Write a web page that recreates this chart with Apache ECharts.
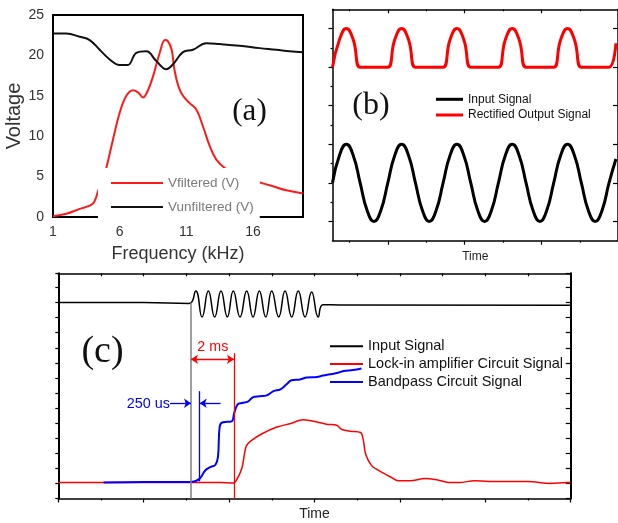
<!DOCTYPE html>
<html><head><meta charset="utf-8">
<script src="https://cdn.jsdelivr.net/npm/echarts@6/dist/echarts.min.js"></script>
<style>html,body{margin:0;padding:0;background:#fff}#c{width:618px;height:523px}</style>
</head><body><div id="c"></div>
<script>
// ---------- Panel (a): frequency response ----------
const freqFiltered = [1, 2, 3, 3.75, 4.1, 4.4, 4.7, 5, 5.5, 6, 6.5, 7, 7.4, 7.75, 8.1, 8.5, 9, 9.4, 9.6, 9.9, 10.1, 10.4, 10.75, 11.25, 11.75, 12.25, 12.75, 13.25, 14, 15, 16.25, 17.5, 18.5, 19.75];
const vFiltered    = [0.1, 0.4, 1.0, 1.4, 1.9, 3.3, 4.6, 6.1, 9.6, 12.9, 15.0, 15.7, 15.4, 14.8, 15.6, 17.4, 20.3, 21.9, 21.8, 20.7, 18.3, 16.2, 15.0, 14.1, 13.3, 11.2, 8.8, 7.1, 5.9, 5.0, 4.4, 3.8, 3.3, 2.9];
const freqUnfiltered = [1, 2, 3, 3.75, 4.5, 5.25, 6, 6.6, 7.25, 8, 8.75, 9.5, 10, 10.75, 11.5, 12.5, 13.5, 15, 16.5, 17.75, 18.75, 19.75];
const vUnfiltered    = [22.7, 22.7, 22.3, 21.9, 20.7, 19.5, 18.8, 18.8, 20.3, 20.5, 19.3, 18.3, 18.9, 20.4, 20.7, 21.5, 21.4, 21.2, 20.9, 20.7, 20.5, 20.4];
const freqTickLabels = [1, 6, 11, 16];

// ---------- Panel (b): rectifier ----------
const timeB = [-0.72, -0.63, -0.54, -0.45, -0.36, -0.27, -0.18, -0.09, 0, 0.09, 0.18, 0.27, 0.36, 0.45, 0.54, 0.63, 0.72, 0.81, 0.90, 0.99, 1.08, 1.17, 1.26, 1.35, 1.44, 1.53, 1.62, 1.71, 1.80, 1.89, 1.98, 2.07, 2.16, 2.25, 2.34, 2.43, 2.52, 2.61, 2.70, 2.79, 2.88, 2.97];
const inputB = [0, 0.71, 1, 0.71, 0, -0.71, -1, -0.71,
                0, 0.71, 1, 0.71, 0, -0.71, -1, -0.71,
                0, 0.71, 1, 0.71, 0, -0.71, -1, -0.71,
                0, 0.71, 1, 0.71, 0, -0.71, -1, -0.71,
                0, 0.71, 1, 0.71, 0, -0.71, -1, -0.71,
                0, 0.62];
const rectifiedB = [3, 3.71, 4, 3.71, 3, 3, 3, 3,
                    3, 3.71, 4, 3.71, 3, 3, 3, 3,
                    3, 3.71, 4, 3.71, 3, 3, 3, 3,
                    3, 3.71, 4, 3.71, 3, 3, 3, 3,
                    3, 3.71, 4, 3.71, 3, 3, 3, 3,
                    3, 3.62];
const timeBMajorTicks = [0, 1, 2];
const timeBMinorTicks = [-0.5, 0.5, 1.5, 2.5];
const voltBMajorTicks = [-1, 0, 1, 2, 3, 4];
const voltBMinorTicks = [-0.5, 0.5, 1.5, 2.5, 3.5];

// ---------- Panel (c): step response ----------
const timeInputC = [0, 1.0, 1.53, 1.609, 1.683, 1.757, 1.831, 1.905, 1.979, 2.049, 2.128, 2.206, 2.280, 2.354, 2.429, 2.499, 2.581, 2.655, 2.733, 2.810, 2.889, 2.967, 3.044, 3.10, 3.3, 6.0];
const inputC     = [6.5, 6.5, 6.47, 6.88, 6.02, 6.88, 6.02, 6.88, 6.02, 6.88, 6.02, 6.88, 6.02, 6.88, 6.02, 6.88, 6.02, 6.88, 6.02, 6.88, 6.02, 6.85, 6.02, 6.43, 6.42, 6.41];
const timeLockC = [0, 0.53, 1.0, 1.5, 1.89, 2.05, 2.09, 2.15, 2.20, 2.26, 2.38, 2.56, 2.71, 2.87, 3.03, 3.14, 3.26, 3.32, 3.42, 3.54, 3.57, 3.60, 3.67, 3.77, 3.88, 3.98, 4.12, 4.29, 4.43, 4.59, 4.70, 4.87, 5.13, 5.50, 5.76, 5.95, 6.0];
const lockC     = [0.53, 0.53, 0.53, 0.53, 0.53, 0.51, 0.63, 1.01, 1.73, 1.92, 2.14, 2.37, 2.48, 2.61, 2.54, 2.46, 2.43, 2.29, 2.23, 2.19, 1.96, 1.46, 1.09, 0.9, 0.73, 0.59, 0.59, 0.66, 0.62, 0.53, 0.53, 0.59, 0.56, 0.56, 0.5, 0.53, 0.53];
const timeBandC = [0.53, 1.0, 1.54, 1.60, 1.66, 1.72, 1.78, 1.84, 1.87, 1.89, 1.925, 2.03, 2.06, 2.10, 2.15, 2.22, 2.28, 2.36, 2.44, 2.52, 2.60, 2.67, 2.73, 2.83, 2.91, 3.03, 3.10, 3.18, 3.26, 3.34, 3.45, 3.55];
const bandC     = [0.53, 0.55, 0.55, 0.57, 0.67, 0.93, 1.04, 1.12, 1.39, 2.39, 2.53, 2.56, 2.84, 3.12, 3.17, 3.21, 3.36, 3.39, 3.42, 3.56, 3.62, 3.78, 3.92, 3.95, 4.01, 4.03, 4.08, 4.12, 4.16, 4.23, 4.26, 4.31];
// annotation markers (data units of panel c): [x, yFrom, yTo]
const grayMarker = [1.554, 0, 6.5];
const redMarker  = [2.057, 0, 4.82];
const blueMarker = [1.656, 0.57, 3.56];
// arrows: [xFrom, xTo, y]
const redArrow   = [1.554, 2.057, 4.62];
const blueArrowR = [1.308, 1.554, 3.16];
const blueArrowL = [1.90, 1.656, 3.16];

const zip = (xs, ys) => xs.map((x, i) => [x, ys[i]]);
const SANS = '"Liberation Sans", Arial, sans-serif';
const SERIF = '"Liberation Serif", "Times New Roman", serif';

const chart = echarts.init(document.getElementById('c'), null, {renderer: 'canvas'});
const noSplit = {show: false};
const blackLine = w => ({show: true, onZero: false, lineStyle: {color: '#000', width: w}});
const noLine = {show: false, onZero: false};
const BMAX = 2.997;

chart.setOption({
  animation: false,
  backgroundColor: '#fff',
  textStyle: {fontFamily: SANS},
  grid: [
    {left: 53, top: 15, width: 250, height: 202, show: true, borderColor: '#000', borderWidth: 2, backgroundColor: 'transparent'},
    {left: 332.5, top: 9.3, width: 288, height: 231.4},
    {left: 58.3, top: 273.3, width: 512.4, height: 225.2}
  ],
  xAxis: [
    {gridIndex: 0, type: 'value', min: 1, max: 19.75, position: 'bottom',
     axisLine: noLine, axisTick: {show: false}, splitLine: noSplit,
     axisLabel: {customValues: freqTickLabels, fontSize: 14, color: '#333', margin: 8, fontFamily: SANS},
     name: 'Frequency (kHz)', nameLocation: 'middle', nameGap: 28,
     nameTextStyle: {fontSize: 18, color: '#333', fontFamily: SANS}},
    {gridIndex: 1, type: 'value', min: -0.72, max: BMAX, position: 'bottom',
     axisLine: blackLine(1.5), axisTick: {show: true, customValues: timeBMajorTicks, length: 4, lineStyle: {color: '#000', width: 1.2}},
     axisLabel: {show: false}, splitLine: noSplit,
     name: 'Time', nameLocation: 'middle', nameGap: 10, nameTextStyle: {fontSize: 12, color: '#222', fontFamily: SANS}},
    {gridIndex: 1, type: 'value', min: -0.72, max: BMAX, position: 'bottom',
     axisLine: noLine, axisTick: {show: true, customValues: timeBMinorTicks, length: 2, lineStyle: {color: '#000', width: 1.2}},
     axisLabel: {show: false}, splitLine: noSplit},
    {gridIndex: 1, type: 'value', min: -0.72, max: BMAX, position: 'top',
     axisLine: blackLine(1.5), axisTick: {show: true, inside: true, customValues: timeBMajorTicks, length: 4, lineStyle: {color: '#000', width: 1.2}},
     axisLabel: {show: false}, splitLine: noSplit},
    {gridIndex: 1, type: 'value', min: -0.72, max: BMAX, position: 'top',
     axisLine: noLine, axisTick: {show: true, inside: true, customValues: timeBMinorTicks, length: 2, lineStyle: {color: '#000', width: 1.2}},
     axisLabel: {show: false}, splitLine: noSplit},
    {gridIndex: 2, type: 'value', min: 0, max: 6, interval: 1, position: 'bottom',
     axisLine: blackLine(1.5), axisTick: {show: true, length: 4, lineStyle: {color: '#000', width: 1.2}},
     minorTick: {show: true, splitNumber: 2, length: 2, lineStyle: {color: '#000', width: 1.2}},
     axisLabel: {show: false}, splitLine: noSplit,
     name: 'Time', nameLocation: 'middle', nameGap: 9, nameTextStyle: {fontSize: 14, color: '#222', fontFamily: SANS}},
    {gridIndex: 2, type: 'value', min: 0, max: 6, interval: 0.5, position: 'top',
     axisLine: blackLine(1.5), axisTick: {show: true, inside: true, length: 3, lineStyle: {color: '#000', width: 1.2}},
     axisLabel: {show: false}, splitLine: noSplit}
  ],
  yAxis: [
    {gridIndex: 0, type: 'value', min: 0, max: 25, interval: 5, position: 'left',
     axisLine: noLine, axisTick: {show: false}, splitLine: noSplit,
     axisLabel: {fontSize: 14, color: '#333', margin: 9, fontFamily: SANS},
     name: 'Voltage', nameLocation: 'middle', nameGap: 28,
     nameTextStyle: {fontSize: 20, color: '#333', fontFamily: SANS}},
    {gridIndex: 1, type: 'value', min: -1.5, max: 4.5, position: 'left',
     axisLine: blackLine(1.5), axisTick: {show: true, customValues: voltBMajorTicks, length: 4, lineStyle: {color: '#000', width: 1.2}},
     axisLabel: {show: false}, splitLine: noSplit},
    {gridIndex: 1, type: 'value', min: -1.5, max: 4.5, position: 'left',
     axisLine: noLine, axisTick: {show: true, customValues: voltBMinorTicks, length: 2, lineStyle: {color: '#000', width: 1.2}},
     axisLabel: {show: false}, splitLine: noSplit},
    {gridIndex: 1, type: 'value', min: -1.5, max: 4.5, position: 'right',
     axisLine: blackLine(1.5), axisTick: {show: true, inside: true, customValues: voltBMajorTicks, length: 5, lineStyle: {color: '#000', width: 1.2}},
     axisLabel: {show: false}, splitLine: noSplit},
    {gridIndex: 2, type: 'value', min: 0, max: 7.47, interval: 0.5, position: 'left',
     axisLine: blackLine(2), axisTick: {show: true, length: 3, lineStyle: {color: '#000', width: 1.2}},
     axisLabel: {show: false}, splitLine: noSplit},
    {gridIndex: 2, type: 'value', min: 0, max: 7.47, interval: 0.5, position: 'right',
     axisLine: blackLine(2), axisTick: {show: true, inside: true, length: 5, lineStyle: {color: '#000', width: 1.2}},
     axisLabel: {show: false}, splitLine: noSplit}
  ],
  legend: [
    {data: ['Vfiltered (V)', 'Vunfiltered (V)'], orient: 'vertical', left: 98, top: 168,
     padding: [8, 6, 8, 13], backgroundColor: '#fff', itemGap: 10, itemWidth: 52, itemHeight: 2,
     icon: 'rect', selectedMode: false, z: 10,
     textStyle: {fontSize: 13.5, color: '#7a7a7a', fontFamily: SANS}},
    {data: ['Input Signal', 'Rectified Output Signal'], orient: 'vertical', left: 436, top: 93.3,
     padding: 0, itemGap: 3.7, itemWidth: 27, itemHeight: 3, icon: 'rect', selectedMode: false,
     textStyle: {fontSize: 12, color: '#111', fontFamily: SANS}},
    {data: ['Input Signal', 'Lock-in amplifier Circuit Signal', 'Bandpass Circuit Signal'], orient: 'vertical',
     left: 330, top: 338.8, padding: 0, itemGap: 2.8, itemWidth: 33, itemHeight: 2, icon: 'rect', selectedMode: false,
     textStyle: {fontSize: 14.5, color: '#111', fontFamily: SANS}}
  ],
  series: [
    {name: 'Vfiltered (V)', type: 'line', xAxisIndex: 0, yAxisIndex: 0, data: zip(freqFiltered, vFiltered),
     smooth: 0.4, showSymbol: false, color: '#ff1a1a', lineStyle: {color: '#ff1a1a', width: 2}},
    {name: 'Vunfiltered (V)', type: 'line', xAxisIndex: 0, yAxisIndex: 0, data: zip(freqUnfiltered, vUnfiltered),
     smooth: 0.4, showSymbol: false, color: '#111', lineStyle: {color: '#111', width: 2}},
    {name: 'Input Signal', type: 'line', xAxisIndex: 1, yAxisIndex: 1, data: zip(timeB, inputB),
     smooth: 0.5, showSymbol: false, color: '#000', lineStyle: {color: '#000', width: 3}},
    {name: 'Rectified Output Signal', type: 'line', xAxisIndex: 1, yAxisIndex: 1, data: zip(timeB, rectifiedB),
     smooth: 0.5, showSymbol: false, color: '#ff0000', lineStyle: {color: '#ff0000', width: 3}},
    {name: 'Input Signal', type: 'line', xAxisIndex: 5, yAxisIndex: 4, data: zip(timeInputC, inputC),
     smooth: 0.5, showSymbol: false, color: '#000', lineStyle: {color: '#000', width: 1.5},
     markLine: {silent: true, symbol: 'none', label: {show: false}, animation: false,
       lineStyle: {color: '#7f7f7f', width: 1.5, type: 'solid'},
       data: [[{coord: [grayMarker[0], grayMarker[1]]}, {coord: [grayMarker[0], grayMarker[2]]}]]}},
    {name: 'Lock-in amplifier Circuit Signal', type: 'line', xAxisIndex: 5, yAxisIndex: 4, data: zip(timeLockC, lockC),
     smooth: 0.3, showSymbol: false, color: '#ff0000', lineStyle: {color: '#ff0000', width: 1.5},
     markLine: {silent: true, symbol: 'none', symbolSize: 7, label: {show: false}, animation: false,
       lineStyle: {color: '#ff0000', width: 1.3, type: 'solid'},
       data: [
         [{coord: [redMarker[0], redMarker[1]]}, {coord: [redMarker[0], redMarker[2]]}],
         [{coord: [redArrow[0], redArrow[2]], symbol: 'arrow'}, {coord: [redArrow[1], redArrow[2]], symbol: 'arrow'}]
       ]}},
    {name: 'Bandpass Circuit Signal', type: 'line', xAxisIndex: 5, yAxisIndex: 4, data: zip(timeBandC, bandC),
     smooth: 0.4, showSymbol: false, color: '#0000ff', lineStyle: {color: '#0000ff', width: 2},
     markLine: {silent: true, symbol: 'none', symbolSize: 7, label: {show: false}, animation: false,
       lineStyle: {color: '#0000ff', width: 1.3, type: 'solid'},
       data: [
         [{coord: [blueMarker[0], blueMarker[1]]}, {coord: [blueMarker[0], blueMarker[2]]}],
         [{coord: [blueArrowR[0], blueArrowR[2]], symbol: 'none'}, {coord: [blueArrowR[1], blueArrowR[2]], symbol: 'arrow'}],
         [{coord: [blueArrowL[0], blueArrowL[2]], symbol: 'none'}, {coord: [blueArrowL[1], blueArrowL[2]], symbol: 'arrow'}]
       ]}}
  ],
  graphic: [
    {type: 'text', z: 20, style: {text: '(a)', x: 249.5, y: 112, align: 'center', verticalAlign: 'middle', font: '31px ' + SERIF, fill: '#111'}},
    {type: 'text', z: 20, style: {text: '(b)', x: 371, y: 106, align: 'center', verticalAlign: 'middle', font: '32px ' + SERIF, fill: '#111'}},
    {type: 'text', z: 20, style: {text: '(c)', x: 102.5, y: 352, align: 'center', verticalAlign: 'middle', font: '38px ' + SERIF, fill: '#111'}},
    {type: 'text', z: 20, style: {text: '2 ms', x: 212.8, y: 347.3, align: 'center', verticalAlign: 'middle', font: '14.3px ' + SANS, fill: '#ff0000'}},
    {type: 'text', z: 20, style: {text: '250 us', x: 148.3, y: 404, align: 'center', verticalAlign: 'middle', font: '14.4px ' + SANS, fill: '#0000ff'}}
  ]
});
</script>
</body></html>
